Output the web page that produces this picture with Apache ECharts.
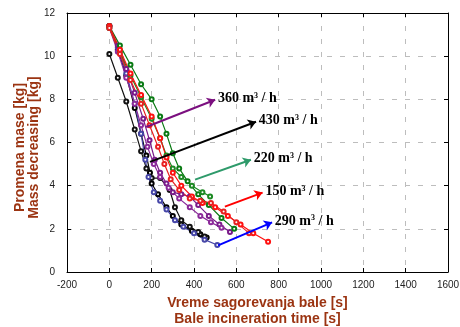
<!DOCTYPE html>
<html><head><meta charset="utf-8">
<script src="https://cdn.jsdelivr.net/npm/echarts@6/dist/echarts.min.js"></script>
<style>html,body{margin:0;padding:0;background:#fff}#c{width:460px;height:327px}</style>
</head><body><div id="c"></div>
<script>
// ---- data ----
const black1 = [[0,11.4],[40,10.3],[80,9.1],[120,7.6],[150,6.4],[175,5.4],[192,4.6],[200,4.1],[230,3.6],[270,3.0],[300,2.6],[340,2.2],[390,1.9],[430,1.75],[460,1.6]];
const black2 = [[0,10.1],[40,9.0],[80,7.9],[120,6.6],[150,5.6],[175,4.8],[200,4.35],[240,4.35],[285,3.8],[310,3.0],[340,2.4],[380,2.1],[420,1.85],[450,1.65]];
const blue1 = [[0,11.4],[40,10.4],[80,9.2],[120,7.8],[150,6.4],[170,5.2],[185,4.4],[210,3.7],[240,3.3],[270,2.9],[310,2.4],[350,2.1],[400,1.8],[450,1.5],[510,1.25]];
const purple1 = [[0,11.4],[40,10.5],[80,9.4],[120,8.3],[160,7.1],[190,6.1],[215,5.2],[240,4.6],[270,4.1],[300,3.7],[340,3.6],[380,3.5],[420,3.1],[470,2.6],[520,2.2],[570,1.85]];
const purple2 = [[0,11.3],[40,10.2],[80,9.0],[120,7.8],[150,6.8],[180,5.8],[210,5.0],[240,4.4],[280,3.9],[330,3.4],[380,3.0],[430,2.6],[480,2.3],[530,2.05]];
const green1 = [[0,11.4],[50,10.5],[100,9.6],[150,8.7],[200,8.0],[240,7.2],[270,6.4],[300,5.5],[330,4.8],[370,4.2],[420,3.6],[470,3.1],[530,2.5],[590,2.0]];
const green2 = [[0,11.3],[50,10.2],[100,9.1],[150,8.1],[200,7.1],[240,6.2],[270,5.4],[300,4.8],[340,4.4],[390,4.0],[440,3.7],[476,3.5]];
const red1 = [[0,11.4],[50,10.3],[100,9.2],[150,8.2],[200,7.2],[240,6.2],[270,5.3],[300,4.6],[340,4.0],[390,3.5],[440,3.2],[500,3.0],[560,2.6],[620,2.2],[680,1.8],[750,1.4]];
const red2 = [[0,11.3],[50,10.1],[100,8.9],[150,7.8],[190,6.8],[230,5.8],[260,5.0],[290,4.3],[330,3.8],[380,3.4],[430,3.3],[480,3.2],[540,2.8],[600,2.3],[660,1.8]];

const arrow360 = [[174,6.72],[500,7.98]];
const arrow430 = [[192,5.1],[693,6.96]];
const arrow220 = [[405,4.28],[669,5.2]];
const arrow150 = [[546,3.03],[724,3.68]];
const arrow290 = [[514,1.23],[769,2.3]];
const flowLabels = ['360','430','220','150','290'];

const xName = 'Vreme sagorevanja bale [s]\nBale incineration time [s]';
const yName = 'Promena mase [kg]\nMass decreasing [kg]';

// ---- chart ----
const chart = echarts.init(document.getElementById('c'), null, {renderer:'canvas'});
function curve(data, color){
  return {type:'line', data:data, symbol:'emptyCircle', symbolSize:4, showAllSymbol:true,
    lineStyle:{color:color,width:1.2}, itemStyle:{color:color,borderWidth:0.7}, z:3, animation:false};
}
function arrow(coords, color, flow){
  return {type:'lines', coordinateSystem:'cartesian2d', z:5, animation:false,
    symbol:['none','arrow'], symbolSize:8,
    lineStyle:{color:color,width:2,opacity:1},
    label:{show:true, position:'end', distance:3, color:'#000',
      formatter:'{a|'+flow+' m}{s|3}{a| / h}',
      rich:{a:{fontFamily:'Liberation Serif',fontWeight:'bold',fontSize:14,color:'#000'},
            s:{fontFamily:'Liberation Serif',fontWeight:'bold',fontSize:8,color:'#000',verticalAlign:'top'}}},
    data:[{coords:coords}]};
}
const titleColor = '#9b3412';
const plain = v => String(v);
chart.setOption({
  animation:false,
  grid:{left:67,right:12,top:13,bottom:55,containLabel:false,outerBoundsMode:'none'},
  xAxis:[{type:'value',min:-200,max:1600,interval:200,position:'bottom',
    axisLine:{show:true,onZero:false,lineStyle:{color:'#000',width:1}},
    axisTick:{show:true,inside:true,length:4,lineStyle:{color:'#000'}},
    axisLabel:{fontFamily:'Liberation Sans',fontSize:10,color:'#222',margin:8,formatter:plain},
    splitLine:{show:true,lineStyle:{color:'#bdbdbd',type:[5,8],width:1}},
    name:xName,nameLocation:'middle',nameGap:23,
    nameTextStyle:{fontFamily:'Liberation Sans',fontWeight:'bold',fontSize:14,color:titleColor,lineHeight:16}},
   {type:'value',min:-200,max:1600,interval:200,position:'top',
    axisLine:{show:true,onZero:false,lineStyle:{color:'#000'}},
    axisTick:{show:true,inside:true,length:4,lineStyle:{color:'#000'}},
    axisLabel:{show:false},splitLine:{show:false}}],
  yAxis:[{type:'value',min:0,max:12,interval:2,position:'left',
    axisLine:{show:true,onZero:false,lineStyle:{color:'#000',width:1}},
    axisTick:{show:true,inside:true,length:4,lineStyle:{color:'#000'}},
    axisLabel:{fontFamily:'Liberation Sans',fontSize:10,color:'#222',margin:12,formatter:plain},
    splitLine:{show:true,lineStyle:{color:'#bdbdbd',type:[5,8],width:1}},
    name:yName,nameLocation:'middle',nameGap:26,nameRotate:90,nameMoveOverlap:false,
    nameTextStyle:{fontFamily:'Liberation Sans',fontWeight:'bold',fontSize:14,color:titleColor,lineHeight:14,padding:[0,10,0,0]}},
   {type:'value',min:0,max:12,interval:2,position:'right',
    axisLine:{show:true,onZero:false,lineStyle:{color:'#000'}},
    axisTick:{show:true,inside:true,length:4,lineStyle:{color:'#000'}},
    axisLabel:{show:false},splitLine:{show:false}}],
  series:[
    curve(black1,'#000000'), curve(black2,'#111111'),
    curve(blue1,'#4646a8'),
    curve(purple1,'#7a1a8a'), curve(purple2,'#8b2a9a'),
    curve(green1,'#0a7a14'), curve(green2,'#1c8a22'),
    curve(red1,'#ff1010'), curve(red2,'#e82020'),
    arrow(arrow360,'#7b0f7f',flowLabels[0]),
    arrow(arrow430,'#000000',flowLabels[1]),
    arrow(arrow220,'#2e9a6a',flowLabels[2]),
    arrow(arrow150,'#ff0000',flowLabels[3]),
    arrow(arrow290,'#0000ff',flowLabels[4])
  ]
});
</script></body></html>
